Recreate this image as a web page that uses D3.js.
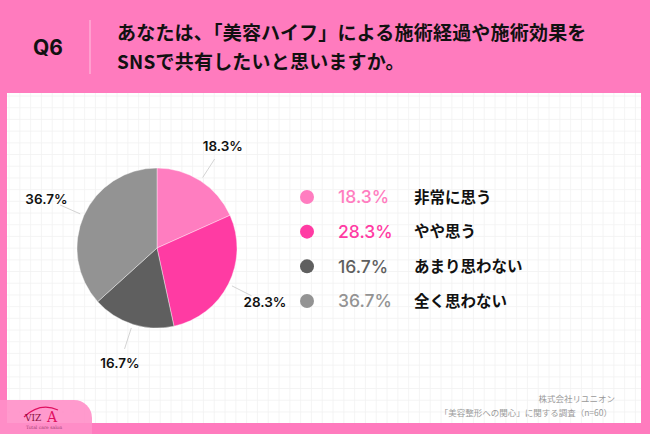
<!DOCTYPE html>
<html><head><meta charset="utf-8">
<script src="https://cdn.jsdelivr.net/npm/d3@7"></script>
<style>html,body{margin:0;padding:0;background:#fff;}svg{display:block;}</style>
</head><body>
<script>
const categories = ["非常に思う", "やや思う", "あまり思わない", "全く思わない"];
const values = [18.3, 28.3, 16.7, 36.7];
const colors = ["#FF7DC0", "#FF3BA3", "#5F5F5F", "#939393"];
const titleLines = ["あなたは、「美容ハイフ」による施術経過や施術効果を", "SNSで共有したいと思いますか。"];
const qLabel = "Q6";
const footer = ["株式会社リユニオン", "「美容整形への関心」に関する調査（n=60）"];

const W = 650, H = 434;
const svg = d3.select("body").append("svg").attr("width", W).attr("height", H);
const jp = "'Noto Sans CJK JP', 'Noto Sans', sans-serif";
const lat = "'Inter', 'Liberation Sans', sans-serif";

// frame
svg.append("rect").attr("width", W).attr("height", H).attr("fill", "#FF7BBE");
const panel = {x: 7, y: 93, w: 634, h: 330};
svg.append("rect").attr("x", panel.x).attr("y", panel.y).attr("width", panel.w).attr("height", panel.h).attr("fill", "#fff");
const grid = svg.append("g").attr("stroke", "#f1f1f1").attr("stroke-width", 0.8);
for (let x = panel.x + 2; x < panel.x + panel.w; x += 10.8)
  grid.append("line").attr("x1", x).attr("x2", x).attr("y1", panel.y).attr("y2", panel.y + panel.h);
for (let y = panel.y + 3; y < panel.y + panel.h; y += 11.7)
  grid.append("line").attr("x1", panel.x).attr("x2", panel.x + panel.w).attr("y1", y).attr("y2", y);

// header
svg.append("text").attr("x", 48).attr("y", 55).attr("text-anchor", "middle")
  .attr("font-family", lat).attr("font-weight", 700).attr("font-size", 21).attr("fill", "#111").text(qLabel);
svg.append("line").attr("x1", 90).attr("x2", 90).attr("y1", 20).attr("y2", 74).attr("stroke", "#FFC4E0").attr("stroke-width", 1);
titleLines.forEach((t, i) => {
  svg.append("text").attr("x", 117).attr("y", 40 + i * 29)
    .attr("font-family", jp).attr("font-weight", 700).attr("font-size", 19).attr("letter-spacing", 0.2)
    .attr("fill", "#111").text(t);
});

// pie
const cx = 157, cy = 248, R = 80;
const pie = d3.pie().sort(null).value(d => d)(values);
const arc = d3.arc().innerRadius(0).outerRadius(R);
const g = svg.append("g").attr("transform", `translate(${cx},${cy})`);
g.selectAll("path").data(pie).join("path").attr("d", arc)
  .attr("fill", (d, i) => colors[i]).attr("stroke", "#fff").attr("stroke-width", 0.4);
const pt = (a, r) => [Math.sin(a) * r, -Math.cos(a) * r];
pie.forEach((d, i) => {
  const a = (d.startAngle + d.endAngle) / 2;
  const p1 = pt(a, 84), p2 = pt(a, 106), p3 = pt(a, 121);
  g.append("line").attr("x1", p1[0]).attr("y1", p1[1]).attr("x2", p2[0]).attr("y2", p2[1])
    .attr("stroke", "#c8c8c8").attr("stroke-width", 0.8);
  g.append("text").attr("x", p3[0]).attr("y", p3[1]).attr("dy", "0.36em").attr("text-anchor", "middle")
    .attr("font-family", lat).attr("font-weight", 600).attr("font-size", 13.5).attr("fill", "#111")
    .text(values[i].toFixed(1) + "%");
});

// legend
const ly = d3.scalePoint().domain(categories).range([197, 301]);
categories.forEach((c, i) => {
  const y = ly(c);
  svg.append("circle").attr("cx", 307).attr("cy", y).attr("r", 7).attr("fill", colors[i]);
  svg.append("text").attr("x", 338).attr("y", y).attr("dy", "0.36em")
    .attr("font-family", lat).attr("font-weight", 500).attr("font-size", 17.5).attr("fill", colors[i])
    .text(values[i].toFixed(1) + "%");
  svg.append("text").attr("x", 414).attr("y", y).attr("dy", "0.36em")
    .attr("font-family", jp).attr("font-weight", 700).attr("font-size", 15.5).attr("fill", "#111").text(c);
});

// footer
footer.forEach((t, i) => {
  svg.append("text").attr("x", i === 0 ? 615 : 612).attr("y", 402 + i * 14).attr("text-anchor", "end")
    .attr("font-family", jp).attr("font-size", 8.5).attr("fill", "#9a9a9a").text(t);
});

// logo block
svg.append("path").attr("d", "M0,400 H74 A18,18 0 0 1 92,418 V434 H0 Z").attr("fill", "#FF8FC8").attr("opacity", 0.9);
svg.append("path").attr("d", "M24,417 Q40,402 58,410").attr("fill", "none").attr("stroke", "#E0105F").attr("stroke-width", 1.2);
svg.append("text").attr("x", 25).attr("y", 421).attr("font-family", "'DejaVu Serif', serif").attr("font-size", 9).attr("fill", "#8a1040").text("VIZ");
svg.append("text").attr("x", 47).attr("y", 422).attr("font-family", "'DejaVu Serif', serif").attr("font-size", 14).attr("fill", "#E0105F").text("A");
svg.append("text").attr("x", 26).attr("y", 429).attr("font-family", "'DejaVu Serif', serif").attr("font-size", 4.5).attr("fill", "#a04070").text("Total care salon");
</script>
</body></html>
